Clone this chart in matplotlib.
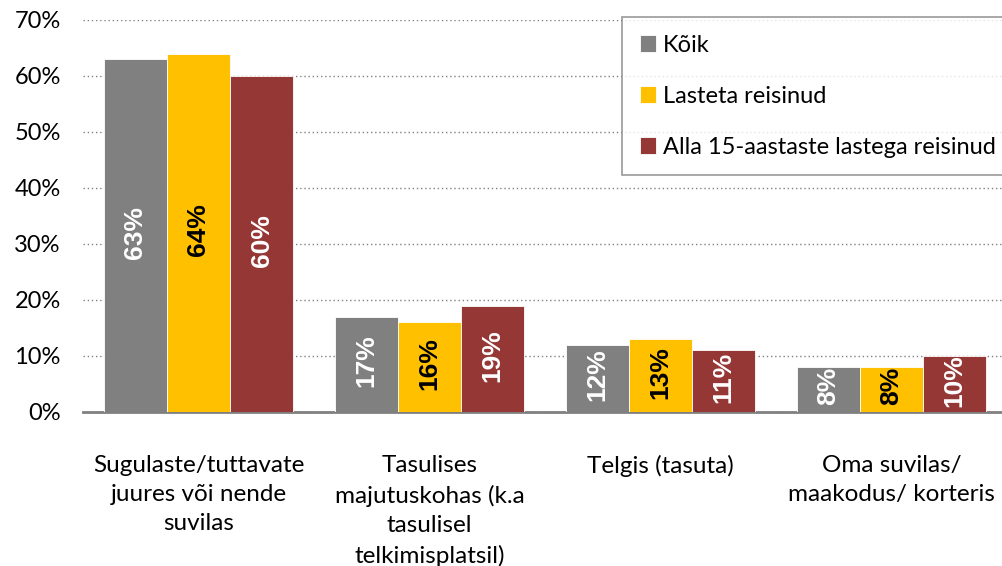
import numpy as np
import matplotlib.pyplot as plt

categories = ['Sugulaste/tuttavate\njuures või nende\nsuvilas',
              'Tasulises\nmajutuskohas (k.a\ntasulisel\ntelkimisplatsil)',
              'Telgis (tasuta)',
              'Oma suvilas/\nmaakodus/ korteris']
series_names = ['Kõik', 'Lasteta reisinud', 'Alla 15-aastaste lastega reisinud']
koik = [63, 17, 12, 8]
lasteta = [64, 16, 13, 8]
lastega = [60, 19, 11, 10]
yticks = [0, 10, 20, 30, 40, 50, 60, 70]

colors = ['#808080', '#FFC000', '#953735']
text_colors = ['white', 'black', 'white']

plt.rcParams['font.family'] = ['Lato', 'DejaVu Sans']

fig = plt.figure(figsize=(10.02, 5.66), dpi=100)
ax = fig.add_axes([83/1002, 154/566, 924/1002, 392/566])

x = np.arange(len(categories))
w = 0.273
for i, vals in enumerate([koik, lasteta, lastega]):
    pos = x + (i - 1) * w
    ax.bar(pos, vals, w, color=colors[i], edgecolor='white', linewidth=0.6,
           label=series_names[i], zorder=3)
    for px, v in zip(pos, vals):
        ax.text(px, v / 2 + 0.6, '%d%%' % v, rotation=90, ha='center', va='center',
                color=text_colors[i], fontsize=19, fontweight='bold',
                family='Liberation Sans', zorder=4)

ax.set_xlim(-0.5, 3.5)
ax.set_ylim(0, 70)
ax.set_yticks(yticks)
ax.set_yticklabels(['%d%%' % t for t in yticks], fontsize=17)
ax.yaxis.grid(True, linestyle=(0, (1, 2)), color='#808080', linewidth=1)
ax.set_axisbelow(True)
ax.tick_params(axis='y', length=0, pad=16)
ax.tick_params(axis='x', length=0, pad=31)
ax.set_xticks(x)
ax.set_xticklabels(categories, fontsize=17.5, linespacing=1.48, va='top')
for s in ['top', 'right', 'left']:
    ax.spines[s].set_visible(False)
ax.spines['bottom'].set_color('#808080')
ax.spines['bottom'].set_linewidth(2)

leg = ax.legend(loc='upper left', bbox_to_anchor=(622/1002, 1 - 17/566),
                bbox_transform=fig.transFigure, fontsize=17, frameon=True,
                fancybox=False, edgecolor='#808080', handlelength=0.7,
                handleheight=0.7, handletextpad=0.3, labelspacing=1.27,
                borderpad=0.75, borderaxespad=0)
leg.get_frame().set_linewidth(1.2)

fig.savefig('out.png', dpi=100)
